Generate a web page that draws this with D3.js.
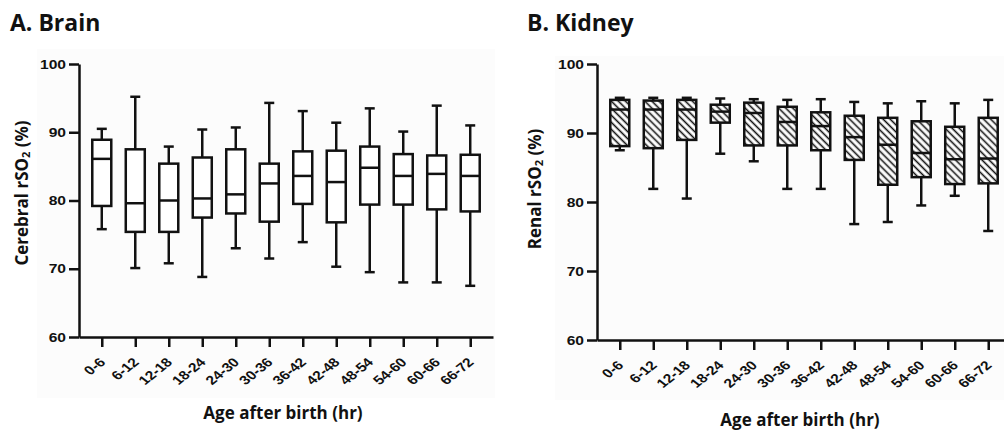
<!DOCTYPE html>
<html>
<head>
<meta charset="utf-8">
<script src="https://cdn.jsdelivr.net/npm/d3@7"></script>
<style>
  body { margin: 0; background: #fff; }
  svg { display: block; }
</style>
</head>
<body>
<svg id="chart" width="1004" height="431"></svg>
<script>
// age bins (hr)
const ages = ['0-6', '6-12', '12-18', '18-24', '24-30', '30-36', '36-42', '42-48', '48-54', '54-60', '60-66', '66-72'];
const yTicks = [60, 70, 80, 90, 100];

// A. Brain - whisker/box values
const brainMax = [90.5, 95.2, 87.9, 90.4, 90.7, 94.3, 93.1, 91.4, 93.5, 90.1, 93.9, 91.0];
const brainQ3 = [88.9, 87.5, 85.4, 86.3, 87.5, 85.4, 87.2, 87.3, 87.9, 86.8, 86.6, 86.7];
const brainMedian = [86.1, 79.6, 80.0, 80.3, 80.9, 82.5, 83.6, 82.7, 84.8, 83.6, 83.9, 83.6];
const brainQ1 = [79.2, 75.4, 75.4, 77.5, 78.1, 76.9, 79.5, 76.8, 79.4, 79.4, 78.7, 78.4];
const brainMin = [75.8, 70.1, 70.8, 68.8, 73.0, 71.5, 73.9, 70.3, 69.5, 68.0, 68.0, 67.5];

// B. Kidney
const kidneyMax = [95.1, 95.1, 95.1, 95.0, 94.9, 94.8, 94.9, 94.5, 94.3, 94.6, 94.3, 94.8];
const kidneyQ3 = [94.8, 94.7, 94.8, 94.1, 94.4, 93.8, 93.0, 92.5, 92.2, 91.7, 90.9, 92.2];
const kidneyMedian = [93.4, 93.4, 93.4, 93.1, 92.9, 91.6, 91.0, 89.4, 88.3, 87.1, 86.2, 86.3];
const kidneyQ1 = [88.1, 87.8, 89.0, 91.5, 88.2, 88.2, 87.5, 86.1, 82.5, 83.6, 82.6, 82.7];
const kidneyMin = [87.5, 81.9, 80.5, 87.0, 85.9, 81.9, 81.9, 76.8, 77.1, 79.5, 80.9, 75.8];

const tickFont = '"Liberation Sans", Arial, sans-serif';
const labelFont = '"Open Sans", "Noto Sans", sans-serif';

const svg = d3.select('#chart');

const defs = svg.append('defs');
defs.append('pattern')
    .attr('id', 'hatch')
    .attr('patternUnits', 'userSpaceOnUse')
    .attr('width', 5)
    .attr('height', 5)
    .attr('patternTransform', 'rotate(-45)')
    .call(p => p.append('rect').attr('width', 5).attr('height', 5).attr('fill', '#fff'))
    .append('line')
    .attr('x1', 2.5).attr('x2', 2.5)
    .attr('y1', 0).attr('y2', 5)
    .attr('stroke', '#111')
    .attr('stroke-width', 1.6);

function buildRows(mins, q1s, meds, q3s, maxs) {
    return ages.map((a, i) => ({
        age: a, min: mins[i], q1: q1s[i], median: meds[i], q3: q3s[i], max: maxs[i]
    }))
}

function drawPanel(cfg) {
    const g = svg.append('g').attr('class', 'panel');

    // faint grey backdrop of the original image
    g.append('rect')
        .attr('x', cfg.bg[0]).attr('y', cfg.bg[1])
        .attr('width', cfg.bg[2]).attr('height', cfg.bg[3])
        .attr('fill', '#fcfcfc');

    g.append('text')
        .text(cfg.title)
        .attr('x', cfg.titleX)
        .attr('y', 31)
        .attr('font-family', labelFont)
        .attr('font-weight', 'bold')
        .attr('font-size', 23)
        .attr('fill', '#111');

    const xScale = d3.scalePoint()
        .domain(ages)
        .range([cfg.x0, cfg.x0 + 414])
        .padding(0.68);

    const yScale = d3.scaleLinear()
        .domain([60, 100])
        .range([cfg.yBottom, 64]);

    // whiskers
    const boxes = g.append('g').attr('class', 'boxes')
        .selectAll('g')
        .data(cfg.rows)
        .enter()
        .append('g')
        .attr('transform', d => 'translate(' + xScale(d.age) + ',0)');

    boxes.append('line')
        .attr('y1', d => yScale(d.max))
        .attr('y2', d => yScale(d.min))
        .attr('stroke', '#111')
        .attr('stroke-width', 2.5);

    boxes.selectAll('line.cap')
        .data(d => [d.max, d.min])
        .enter()
        .append('line')
        .attr('class', 'cap')
        .attr('x1', -5).attr('x2', 5)
        .attr('y1', d => yScale(d)).attr('y2', d => yScale(d))
        .attr('stroke', '#111')
        .attr('stroke-width', 2.5);

    boxes.append('rect')
        .attr('x', -cfg.boxW / 2)
        .attr('width', cfg.boxW)
        .attr('y', d => yScale(d.q3))
        .attr('height', d => yScale(d.q1) - yScale(d.q3))
        .attr('fill', cfg.fill)
        .attr('stroke', '#111')
        .attr('stroke-width', 2.5);

    boxes.append('line')
        .attr('x1', -cfg.boxW / 2).attr('x2', cfg.boxW / 2)
        .attr('y1', d => yScale(d.median)).attr('y2', d => yScale(d.median))
        .attr('stroke', '#111')
        .attr('stroke-width', 2.5);

    // axes
    const yAxis = g.append('g')
        .attr('class', 'y axis')
        .attr('transform', 'translate(' + cfg.x0 + ',0)')
        .call(d3.axisLeft(yScale).tickValues(yTicks).tickSize(10).tickSizeOuter(0))

    const xAxis = g.append('g')
        .attr('class', 'x axis')
        .attr('transform', 'translate(0,' + cfg.yBottom + ')')
        .call(d3.axisBottom(xScale).tickSize(10).tickSizeOuter(0))

    g.selectAll('.axis path, .axis line')
        .attr('stroke', '#111')
        .attr('stroke-width', 2.5);

    g.selectAll('.axis text')
        .attr('font-family', tickFont)
        .attr('font-weight', 'bold')
        .attr('fill', '#111');

    // the original lettering is stretched sideways
    yAxis.selectAll('.tick text')
        .attr('font-size', 12.5)
        .attr('x', 0)
        .attr('transform', 'translate(-13,0) scale(1.25,1)');

    xAxis.selectAll('.tick text')
        .attr('font-size', 12.5)
        .attr('text-anchor', 'end')
        .attr('dy', 0)
        .attr('y', 0)
        .attr('transform', 'translate(4,26) scale(1.25,1) rotate(-45)');

    // axis titles
    const yl = g.append('text')
        .attr('transform', 'translate(' + cfg.yLabelX + ' ' + cfg.yLabelY + '),rotate(-90)')
        .attr('text-anchor', 'middle')
        .attr('font-family', labelFont)
        .attr('font-weight', 'bold')
        .attr('font-size', 17)
        .attr('fill', '#111');
    yl.append('tspan').text(cfg.yLabel + ' rSO');
    yl.append('tspan').text('2').attr('font-size', 11).attr('dy', 2);
    yl.append('tspan').text(' (%)').attr('dy', -2);

    g.append('text')
        .text('Age after birth (hr)')
        .attr('x', cfg.xLabelX)
        .attr('y', cfg.xLabelY)
        .attr('text-anchor', 'middle')
        .attr('font-family', labelFont)
        .attr('font-weight', 'bold')
        .attr('font-size', 17)
        .attr('fill', '#111');
}

drawPanel({
    title: 'A. Brain', titleX: 10,
    x0: 79, yBottom: 337, boxW: 19, fill: '#fff',
    bg: [37, 49, 458, 349],
    rows: buildRows(brainMin, brainQ1, brainMedian, brainQ3, brainMax),
    yLabel: 'Cerebral', yLabelX: 28, yLabelY: 193,
    xLabelX: 283, xLabelY: 419
})

drawPanel({
    title: 'B. Kidney', titleX: 527,
    x0: 597, yBottom: 340, boxW: 19, fill: 'url(#hatch)',
    bg: [555, 56, 449, 344],
    rows: buildRows(kidneyMin, kidneyQ1, kidneyMedian, kidneyQ3, kidneyMax),
    yLabel: 'Renal', yLabelX: 541, yLabelY: 189,
    xLabelX: 800, xLabelY: 426
})
</script>
</body>
</html>
